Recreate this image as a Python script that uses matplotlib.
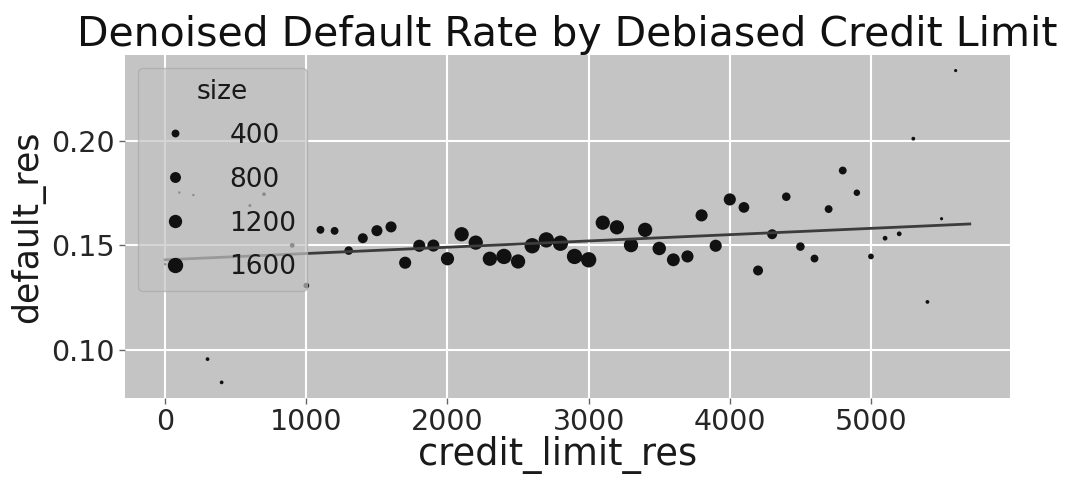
import matplotlib
matplotlib.use("Agg")
import matplotlib.pyplot as plt
from matplotlib.lines import Line2D

# binned credit limit residuals (step 100), default rate residual per bin, bin size
credit_limit_res = [0, 100, 200, 300, 400, 500, 600, 700, 900, 1000,
                    1100, 1200, 1300, 1400, 1500, 1600, 1700, 1800, 1900, 2000,
                    2100, 2200, 2300, 2400, 2500, 2600, 2700, 2800, 2900, 3000,
                    3100, 3200, 3300, 3400, 3500, 3600, 3700, 3800, 3900, 4000,
                    4100, 4200, 4300, 4400, 4500, 4600, 4700, 4800, 4900, 5000,
                    5100, 5200, 5300, 5400, 5500, 5600]
default_res = [0.1410, 0.1752, 0.1740, 0.0957, 0.0846, 0.1368, 0.1690, 0.1744, 0.1500, 0.1308,
               0.1574, 0.1569, 0.1475, 0.1534, 0.1570, 0.1588, 0.1417, 0.1498, 0.1499, 0.1436,
               0.1553, 0.1513, 0.1436, 0.1447, 0.1423, 0.1498, 0.1526, 0.1510, 0.1447, 0.1431,
               0.1608, 0.1586, 0.1501, 0.1574, 0.1485, 0.1431, 0.1447, 0.1643, 0.1498, 0.1719,
               0.1681, 0.1380, 0.1553, 0.1732, 0.1494, 0.1437, 0.1673, 0.1857, 0.1751, 0.1447,
               0.1534, 0.1555, 0.2009, 0.1230, 0.1627, 0.2334]
bin_size = [15, 15, 15, 70, 70, 35, 35, 70, 130, 200,
            400, 400, 480, 660, 820, 820, 990, 990, 990, 1180,
            1380, 1380, 1380, 1600, 1380, 1600, 1600, 1600, 1600, 1600,
            1380, 1380, 1380, 1380, 1230, 1120, 990, 990, 990, 990,
            770, 660, 660, 480, 480, 400, 400, 400, 265, 200,
            130, 130, 73, 73, 43, 43]

# fitted regression line
fit_x = [0, 5700]
fit_y = [0.1431, 0.1602]

legend_sizes = [400, 800, 1200, 1600]


def marker_area(n):
    # points^2 for a bin of n observations
    return 2.0 + 0.075 * n


plt.rcParams['font.family'] = 'DejaVu Sans'

fig = plt.figure(figsize=(10.68, 4.78), dpi=100)
ax = fig.add_axes([0.117, 0.1674, 0.8287, 0.7176])
ax.set_facecolor('#c4c4c4')
for s in ax.spines.values():
    s.set_visible(False)
ax.grid(True, color='white', linewidth=1.5)
ax.set_axisbelow(True)

ax.scatter(credit_limit_res, default_res,
           s=[marker_area(n) for n in bin_size],
           color='#111111', linewidths=0, zorder=2)
ax.plot(fit_x, fit_y, color='#3c3c3c', linewidth=2, zorder=3)

ax.set_xticks([0, 1000, 2000, 3000, 4000, 5000])
ax.set_yticks([0.10, 0.15, 0.20])
ax.tick_params(direction='out', length=4, width=1, color='#666666',
               labelsize=20.5, labelcolor='#262626')

ax.set_xlabel('credit_limit_res', fontsize=26.5, color='#1a1a1a')
ax.xaxis.set_label_coords(0.489, -0.112)
ax.set_ylabel('default_res', fontsize=25, color='#1a1a1a', labelpad=4)
ax.set_title('Denoised Default Rate by Debiased Credit Limit',
             fontsize=29.5, color='#111111', pad=6)

handles = [Line2D([], [], linestyle='none', marker='o', color='#111111',
                  markersize=marker_area(n) ** 0.5, markeredgewidth=0)
           for n in legend_sizes]
leg = ax.legend(handles, [str(n) for n in legend_sizes], title='size',
                loc='upper left', fontsize=19, title_fontsize=19,
                frameon=True, fancybox=True, framealpha=0.7,
                facecolor='#c2c2c2', edgecolor='#aaaaaa',
                labelspacing=0.68, handletextpad=1.05)
leg.get_title().set_color('#1a1a1a')
for t in leg.get_texts():
    t.set_color('#1a1a1a')

fig.savefig('out.png', dpi=100)
